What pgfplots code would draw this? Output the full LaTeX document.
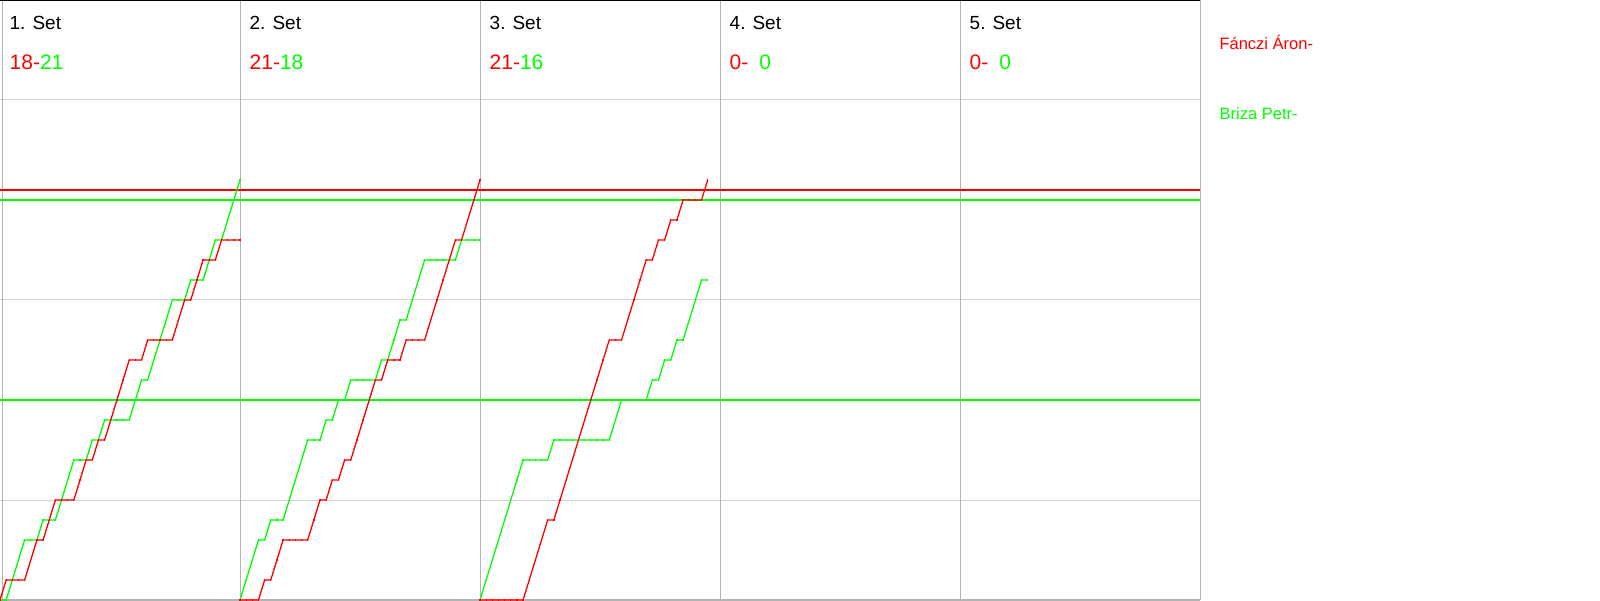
\documentclass[border=0pt]{standalone}
\usepackage{pgfplots}
\usepackage{pgfplotstable}
\usepackage{fontspec}
\setmainfont{Liberation Sans}
\pgfplotsset{compat=1.18}
\definecolor{pred}{RGB}{255,0,0}
\definecolor{pgreen}{RGB}{0,255,0}
\definecolor{vgrid}{RGB}{180,180,180}
\definecolor{hgrid}{RGB}{211,211,211}

% rally  red  green
\pgfplotstableread{
r R G
0 0 0
1 1 0
2 1 1
3 1 2
4 1 3
5 2 3
6 3 3
7 3 4
8 4 4
9 5 4
10 5 5
11 5 6
12 5 7
13 6 7
14 7 7
15 7 8
16 8 8
17 8 9
18 9 9
19 10 9
20 11 9
21 12 9
22 12 10
23 12 11
24 13 11
25 13 12
26 13 13
27 13 14
28 13 15
29 14 15
30 15 15
31 15 16
32 16 16
33 17 16
34 17 17
35 17 18
36 18 18
37 18 19
38 18 20
39 18 21
}\setone

\pgfplotstableread{
r R G
0 0 0
1 0 1
2 0 2
3 0 3
4 1 3
5 1 4
6 2 4
7 3 4
8 3 5
9 3 6
10 3 7
11 3 8
12 4 8
13 5 8
14 5 9
15 6 9
16 6 10
17 7 10
18 7 11
19 8 11
20 9 11
21 10 11
22 11 11
23 11 12
24 12 12
25 12 13
26 12 14
27 13 14
28 13 15
29 13 16
30 13 17
31 14 17
32 15 17
33 16 17
34 17 17
35 18 17
36 18 18
37 19 18
38 20 18
39 21 18
}\settwo

\pgfplotstableread{
r R G
0 0 0
1 0 1
2 0 2
3 0 3
4 0 4
5 0 5
6 0 6
7 0 7
8 1 7
9 2 7
10 3 7
11 4 7
12 4 8
13 5 8
14 6 8
15 7 8
16 8 8
17 9 8
18 10 8
19 11 8
20 12 8
21 13 8
22 13 9
23 13 10
24 14 10
25 15 10
26 16 10
27 17 10
28 17 11
29 18 11
30 18 12
31 19 12
32 19 13
33 20 13
34 20 14
35 20 15
36 20 16
37 21 16
}\setthree

\begin{document}
\begin{tikzpicture}
\useasboundingbox (0pt,0pt) rectangle (1600pt,600pt);
\begin{axis}[
  at={(0pt,0pt)}, anchor=south west,
  scale only axis, width=1200pt, height=600pt,
  xmin=0, xmax=195, ymin=0, ymax=30,
  hide axis, clip=false,
  every axis plot/.append style={line width=1.3pt},
]
% horizontal grid
\foreach \yy in {5,10,15,20,25} {
  \edef\tmp{\noexpand\draw[hgrid, line width=1pt] (axis cs:0,\yy) -- (axis cs:195,\yy);}\tmp
}
% vertical separators
\foreach \xx in {39,78,117,156,195} {
  \edef\tmp{\noexpand\draw[vgrid, line width=1pt] (axis cs:\xx,0) -- (axis cs:\xx,30);}\tmp
}
\draw[vgrid, line width=1pt] (axis cs:0.406,0) -- (axis cs:0.406,30);
\draw[vgrid, line width=1.5pt] (axis cs:0,0) -- (axis cs:195,0);
\draw[black, line width=2.2pt] (axis cs:0,30) -- (axis cs:195,30);

% reference lines
\addplot[pred, no marks] coordinates {(0,20.5) (195,20.5)};
\addplot[pgreen, no marks] coordinates {(0,20) (195,20)};
\addplot[pgreen, no marks] coordinates {(0,10) (195,10)};

% set 1
\addplot[pgreen, mark=|, mark size=1.3pt] table[x=r, y=G] {\setone};
\addplot[pred, mark=|, mark size=1.3pt] table[x=r, y=R] {\setone};
% set 2
\addplot[pgreen, mark=|, mark size=1.3pt] table[x expr=\thisrow{r}+39, y=G] {\settwo};
\addplot[pred, mark=|, mark size=1.3pt] table[x expr=\thisrow{r}+39, y=R] {\settwo};
% set 3
\addplot[pgreen, mark=|, mark size=1.3pt] table[x expr=\thisrow{r}+78, y=G] {\setthree};
\addplot[pred, mark=|, mark size=1.3pt] table[x expr=\thisrow{r}+78, y=R] {\setthree};

% headers
\tikzset{hdr/.style={anchor=base west, inner sep=0pt, font=\fontsize{19}{19}\selectfont},
         scr/.style={anchor=base west, inner sep=0pt, font=\fontsize{21}{21}\selectfont}}
\node[hdr] at (axis cs:1.54,28.5) {1. Set};
\node[hdr] at (axis cs:40.54,28.5) {2. Set};
\node[hdr] at (axis cs:79.54,28.5) {3. Set};
\node[hdr] at (axis cs:118.54,28.5) {4. Set};
\node[hdr] at (axis cs:157.54,28.5) {5. Set};
\node[scr] at (axis cs:1.54,26.5) {\textcolor{pred}{18-}\textcolor{pgreen}{21}};
\node[scr] at (axis cs:40.54,26.5) {\textcolor{pred}{21-}\textcolor{pgreen}{18}};
\node[scr] at (axis cs:79.54,26.5) {\textcolor{pred}{21-}\textcolor{pgreen}{16}};
\node[scr] at (axis cs:118.54,26.5) {\textcolor{pred}{0-}\hspace{11pt}\textcolor{pgreen}{0}};
\node[scr] at (axis cs:157.54,26.5) {\textcolor{pred}{0-}\hspace{11pt}\textcolor{pgreen}{0}};
\end{axis}
\node[anchor=base west, inner sep=0pt, text=pred, font=\fontsize{16.5}{16.5}\selectfont] at (1219.3pt,550pt) {Fánczi Áron-};
\node[anchor=base west, inner sep=0pt, text=pgreen, font=\fontsize{16.5}{16.5}\selectfont] at (1219.5pt,480pt) {Briza Petr-};
\end{tikzpicture}
\end{document}
